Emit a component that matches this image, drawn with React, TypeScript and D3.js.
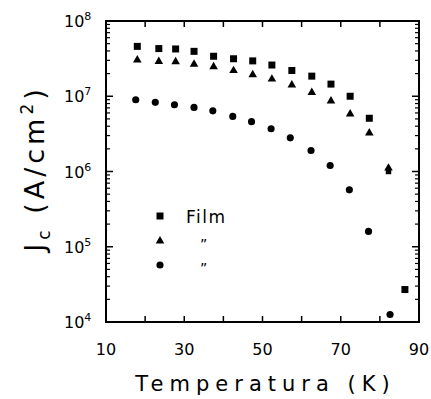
import React from "react";
import * as d3 from "d3";

const squareT = [18, 23.5, 27.8, 32.5, 37.5, 42.6, 47.5, 52.4, 57.5, 62.6, 67.5, 72.4, 77.3, 82.2, 86.4];
const squareJ = [4.6e7, 4.3e7, 4.25e7, 3.95e7, 3.4e7, 3.15e7, 2.95e7, 2.6e7, 2.2e7, 1.85e7, 1.45e7, 1.0e7, 5.1e6, 1.0e6, 2.7e4];
const triangleT = [18, 23.5, 27.8, 32.5, 37.5, 42.6, 47.5, 52.4, 57.5, 62.6, 67.5, 72.4, 77.3, 82.2];
const triangleJ = [3.03e7, 2.9e7, 2.88e7, 2.66e7, 2.47e7, 2.19e7, 1.93e7, 1.69e7, 1.41e7, 1.12e7, 8.65e6, 5.8e6, 3.24e6, 1.11e6];
const circleT = [17.6, 22.6, 27.5, 32.5, 37.3, 42.4, 47.2, 52.2, 57.1, 62.4, 67.3, 72.2, 77.1, 82.6];
const circleJ = [9.0e6, 8.3e6, 7.7e6, 7.1e6, 6.4e6, 5.4e6, 4.6e6, 3.7e6, 2.8e6, 1.9e6, 1.2e6, 5.7e5, 1.6e5, 1.26e4];

const xTickLabels = [10, 30, 50, 70, 90];
const xTicks = [20, 30, 40, 50, 60, 70, 80];
const yDecades = [4, 5, 6, 7, 8];
const legendLabels = ["Film", "\u201D", "\u201D"];

const W = 431;
const H = 399;
const L = 106, R = 419, T = 21, B = 322;
const FONT = "DejaVu Sans, Liberation Sans, sans-serif";

export default function App() {
  const x = d3.scaleLinear().domain([10, 90]).range([L, R]);
  const y = d3.scaleLog().domain([1e4, 1e8]).range([B, T]);

  const minor: number[] = [];
  for (let d = 4; d < 8; d++) {
    for (let m = 2; m <= 9; m++) minor.push(m * Math.pow(10, d));
  }

  const sq = 7;
  const tri = d3.symbol().type(d3.symbolTriangle).size(32)();
  const circ = d3.symbol().type(d3.symbolCircle).size(40)();
  const sqPath = d3.symbol().type(d3.symbolSquare).size(sq * sq)();
  const sqSmall = d3.symbol().type(d3.symbolSquare).size(30)();

  return (
    <svg width={W} height={H} style={{ position: "absolute", left: 0, top: 0, background: "#fff" }} fontFamily={FONT}>
      <rect x={0} y={0} width={W} height={H} fill="#fff" />
      {/* frame */}
      <rect x={L} y={T} width={R - L} height={B - T} fill="none" stroke="#000" strokeWidth={2} />
      {/* bottom & top ticks */}
      {xTicks.map((t) => (
        <g key={"xt" + t}>
          <line x1={x(t)} x2={x(t)} y1={B} y2={B - 6} stroke="#000" strokeWidth={1.5} />
          <line x1={x(t)} x2={x(t)} y1={T} y2={T + 6} stroke="#000" strokeWidth={1.5} />
        </g>
      ))}
      {/* y ticks */}
      {yDecades.map((d) => (
        <g key={"yd" + d}>
          <line x1={L} x2={L + 7} y1={y(Math.pow(10, d))} y2={y(Math.pow(10, d))} stroke="#000" strokeWidth={1.5} />
          <line x1={R} x2={R - 7} y1={y(Math.pow(10, d))} y2={y(Math.pow(10, d))} stroke="#000" strokeWidth={1.5} />
        </g>
      ))}
      {minor.map((v, i) => (
        <g key={"ym" + i}>
          <line x1={L} x2={L + 4} y1={y(v)} y2={y(v)} stroke="#000" strokeWidth={1.2} />
          <line x1={R} x2={R - 4} y1={y(v)} y2={y(v)} stroke="#000" strokeWidth={1.2} />
        </g>
      ))}
      {/* x tick labels */}
      {xTickLabels.map((t) => (
        <text key={"xl" + t} x={x(t)} y={355} textAnchor="middle" fontSize={16}>
          {t}
        </text>
      ))}
      {/* y tick labels */}
      {yDecades.map((d) => (
        <text key={"yl" + d} x={64} y={y(Math.pow(10, d)) + 6} fontSize={16}>
          10
          <tspan dy={-7} fontSize={11}>{d}</tspan>
        </text>
      ))}
      {/* axis titles */}
      <text x={(L + R) / 2 + 3} y={391} textAnchor="middle" fontSize={21} letterSpacing={6}>
        Temperatura (K)
      </text>
      <g transform={`translate(44, ${(T + B) / 2 - 3}) rotate(-90)`}>
        <text x={0} y={0} textAnchor="middle" fontSize={27} letterSpacing={4}>
          J<tspan dy={6} fontSize={17}>c</tspan>
          <tspan dy={-6}> (A/cm</tspan>
          <tspan dy={-11} fontSize={17}>2</tspan>
          <tspan dy={11}>)</tspan>
        </text>
      </g>
      {/* data */}
      {squareT.map((t, i) => (
        <path
          key={"s" + i}
          d={(i === 13 ? sqSmall : sqPath)!}
          transform={`translate(${x(t)},${y(squareJ[i])})`}
          fill="#000"
        />
      ))}
      {triangleT.map((t, i) => (
        <path key={"t" + i} d={tri!} transform={`translate(${x(t)},${y(triangleJ[i])})`} fill="#000" />
      ))}
      {circleT.map((t, i) => (
        <path key={"c" + i} d={circ!} transform={`translate(${x(t)},${y(circleJ[i])})`} fill="#000" />
      ))}
      {/* legend */}
      <path d={sqPath!} transform="translate(160,216)" fill="#000" />
      <path d={tri!} transform="translate(160,241)" fill="#000" />
      <path d={circ!} transform="translate(160,265)" fill="#000" />
      <text x={186} y={223} fontSize={17} letterSpacing={1.5}>{legendLabels[0]}</text>
      <text x={200} y={249} fontSize={14}>{legendLabels[1]}</text>
      <text x={200} y={273} fontSize={14}>{legendLabels[2]}</text>
    </svg>
  );
}
